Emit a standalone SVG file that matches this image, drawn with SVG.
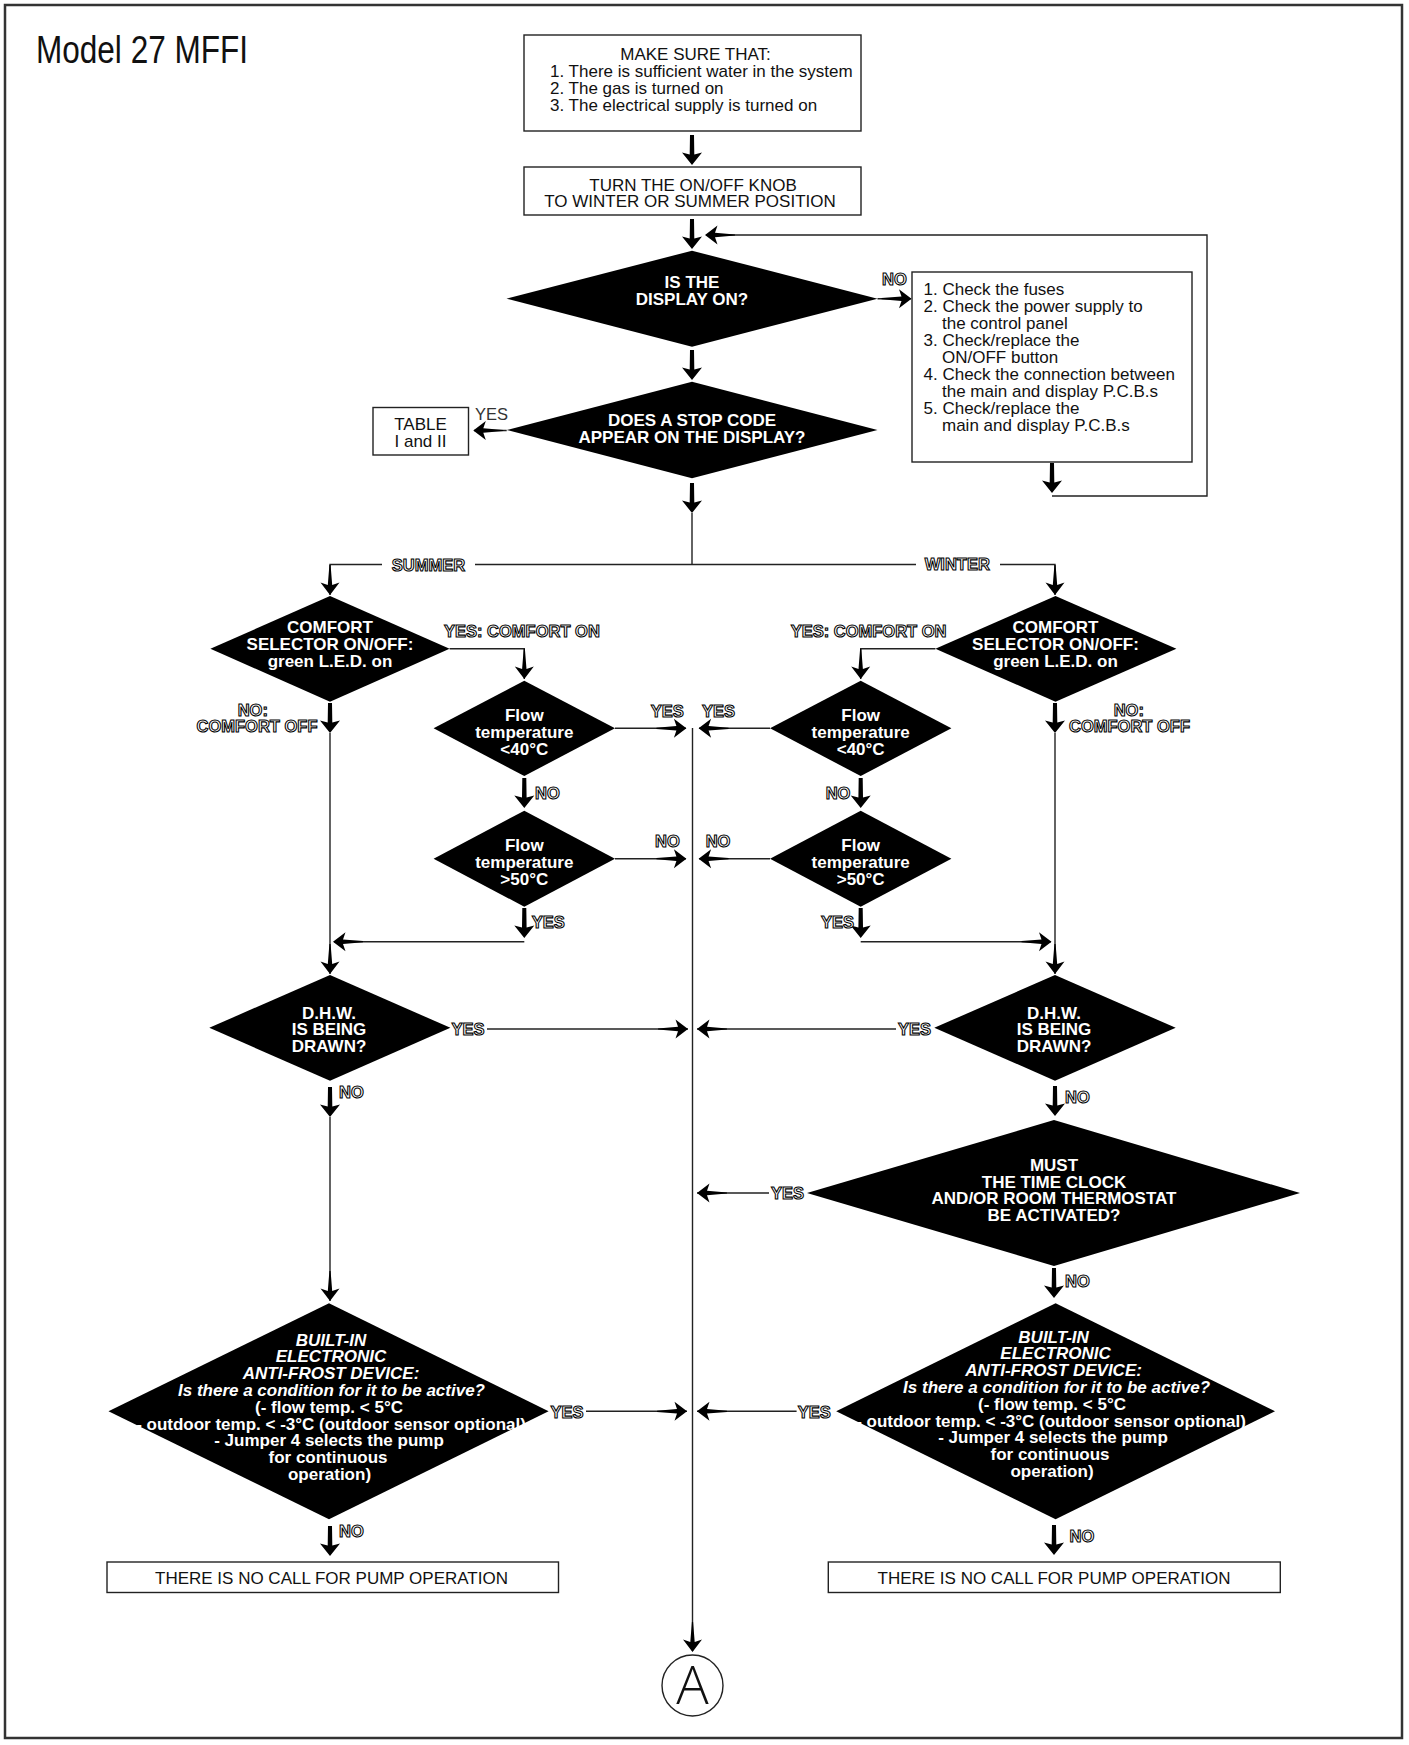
<svg xmlns="http://www.w3.org/2000/svg" width="1409" height="1745" viewBox="0 0 1409 1745">
<style>
.bx{fill:#fff;stroke:#222;stroke-width:1.4}
.dm{fill:#000}
.t{font-family:"Liberation Sans",Arial,sans-serif;font-size:17px;fill:#111}
.c{text-anchor:middle}
.w{font-family:"Liberation Sans",Arial,sans-serif;font-size:17px;font-weight:bold;fill:#fff;text-anchor:middle}
.i{font-style:italic}
.lb{font-family:"Liberation Sans",Arial,sans-serif;font-size:16.5px;font-weight:bold;fill:#fff;stroke:#000;stroke-width:1.05}
.ln{fill:none;stroke:#222;stroke-width:1.4}
.ar{fill:#000}
</style>
<defs>
<path id="at" d="M0,0 L-12.5,-9.5 L-10,-2.2 L-30,-0.6 L-30,0.6 L-10,2.2 L-12.5,9.5 Z"/>
<path id="ak" d="M0,0 L-12.5,-10 L-10.5,-2.3 L-30,-2 L-30,2 L-10.5,2.3 L-12.5,10 Z"/>
</defs>
<rect x="0" y="0" width="1409" height="1745" fill="#fff"/>
<rect x="5" y="5" width="1397" height="1733" fill="none" stroke="#333" stroke-width="2.5"/>
<text x="36" y="63" font-family="Liberation Sans, Arial, sans-serif" font-size="38" fill="#111" textLength="212" lengthAdjust="spacingAndGlyphs">Model 27 MFFI</text>

<g id="connectors">
<path class="ln" d="M692,513 V564.5"/>
<path class="ln" d="M330,595 V564.5 H382"/>
<path class="ln" d="M475,564.5 H916"/>
<path class="ln" d="M1000,564.5 H1055 V595"/>
<path class="ln" d="M449.6,648.8 H524.3 V679"/>
<path class="ln" d="M935.4,648.8 H860.7 V679"/>
<path class="ln" d="M330,733 V974"/>
<path class="ln" d="M1055,733 V974"/>
<path class="ln" d="M615,728.3 H686"/>
<path class="ln" d="M770,728.3 H699"/>
<path class="ln" d="M615,858.7 H686"/>
<path class="ln" d="M770,858.7 H699"/>
<path class="ln" d="M524.3,941.7 H334"/>
<path class="ln" d="M860.7,941.7 H1051"/>
<path class="ln" d="M692.5,728 V1651"/>
<path class="ln" d="M487,1029 H688"/>
<path class="ln" d="M896,1029 H697"/>
<path class="ln" d="M330,1117 V1301"/>
<path class="ln" d="M769,1193 H697"/>
<path class="ln" d="M586,1411.3 H687"/>
<path class="ln" d="M796.6,1411.3 H697"/>
<path class="ln" d="M877.5,298.7 H911"/>
<path class="ln" d="M506.7,430.5 H474"/>
<path class="ln" d="M1052,496 H1207 V235 H706"/>
<g class="ar">
<use href="#ak" transform="translate(692,165) rotate(90)"/>
<use href="#ak" transform="translate(692,249) rotate(90)"/>
<use href="#ak" transform="translate(692,380) rotate(90)"/>
<use href="#ak" transform="translate(692,513) rotate(90)"/>
<use href="#ak" transform="translate(1052,493) rotate(90)"/>
<use href="#ak" transform="translate(330,733) rotate(90)"/>
<use href="#ak" transform="translate(1055,733) rotate(90)"/>
<use href="#ak" transform="translate(524.3,808) rotate(90)"/>
<use href="#ak" transform="translate(860.7,808) rotate(90)"/>
<use href="#ak" transform="translate(524.3,938) rotate(90)"/>
<use href="#ak" transform="translate(860.7,938) rotate(90)"/>
<use href="#ak" transform="translate(330,1117) rotate(90)"/>
<use href="#ak" transform="translate(1055,1116) rotate(90)"/>
<use href="#ak" transform="translate(1054,1298) rotate(90)"/>
<use href="#ak" transform="translate(330,1556) rotate(90)"/>
<use href="#ak" transform="translate(1054,1555) rotate(90)"/>
<use href="#at" transform="translate(330,595) rotate(90)"/>
<use href="#at" transform="translate(1055,595) rotate(90)"/>
<use href="#at" transform="translate(524.3,679) rotate(90)"/>
<use href="#at" transform="translate(860.7,679) rotate(90)"/>
<use href="#at" transform="translate(686.4,728.3)"/>
<use href="#at" transform="translate(698.6,728.3) rotate(180)"/>
<use href="#at" transform="translate(686.4,858.7)"/>
<use href="#at" transform="translate(698.6,858.7) rotate(180)"/>
<use href="#at" transform="translate(333,941.7) rotate(180)"/>
<use href="#at" transform="translate(1051.5,941.7)"/>
<use href="#at" transform="translate(330,974) rotate(90)"/>
<use href="#at" transform="translate(1055,974) rotate(90)"/>
<use href="#at" transform="translate(688,1029)"/>
<use href="#at" transform="translate(697,1029) rotate(180)"/>
<use href="#at" transform="translate(697,1193) rotate(180)"/>
<use href="#at" transform="translate(330,1301) rotate(90)"/>
<use href="#at" transform="translate(687,1411.3)"/>
<use href="#at" transform="translate(697,1411.3) rotate(180)"/>
<use href="#at" transform="translate(692.5,1652) rotate(90)"/>
<use href="#at" transform="translate(911.5,298.7)"/>
<use href="#at" transform="translate(473.3,430.5) rotate(180)"/>
<use href="#at" transform="translate(705,235) rotate(180)"/>
</g>
<g id="labels">
<text class="lb" x="882" y="285">NO</text>
<text x="475" y="420" font-family="Liberation Sans, Arial, sans-serif" font-size="16.5" fill="#333">YES</text>
<text class="lb" x="428.5" y="570.5" text-anchor="middle">SUMMER</text>
<text class="lb" x="957.3" y="569.5" text-anchor="middle">WINTER</text>
<text class="lb" x="444" y="637">YES: COMFORT ON</text>
<text class="lb" x="790.7" y="637">YES: COMFORT ON</text>
<text class="lb" x="252.8" y="716" text-anchor="middle">NO:</text>
<text class="lb" x="317.5" y="732" text-anchor="end">COMFORT OFF</text>
<text class="lb" x="1128.8" y="715.5" text-anchor="middle">NO:</text>
<text class="lb" x="1069" y="732">COMFORT OFF</text>
<text class="lb" x="650.7" y="716.5">YES</text>
<text class="lb" x="702" y="716.5">YES</text>
<text class="lb" x="535" y="798.5">NO</text>
<text class="lb" x="825.7" y="798.5">NO</text>
<text class="lb" x="655" y="846.5">NO</text>
<text class="lb" x="705.7" y="846.5">NO</text>
<text class="lb" x="531.8" y="928">YES</text>
<text class="lb" x="821" y="928">YES</text>
<text class="lb" x="451.4" y="1034.5">YES</text>
<text class="lb" x="897.9" y="1034.5">YES</text>
<text class="lb" x="339" y="1097.5">NO</text>
<text class="lb" x="1065" y="1102.5">NO</text>
<text class="lb" x="771" y="1198.5">YES</text>
<text class="lb" x="1065" y="1287">NO</text>
<text class="lb" x="550.5" y="1417.5">YES</text>
<text class="lb" x="797.8" y="1417.5">YES</text>
<text class="lb" x="339" y="1536.5">NO</text>
<text class="lb" x="1069.5" y="1542">NO</text>
</g>
</g>

<g id="n_makesure">
<rect class="bx" x="524" y="35" width="337" height="96"/>
<text class="t c" x="695.5" y="60">MAKE SURE THAT:</text>
<text class="t" x="550" y="77">1. There is sufficient water in the system</text>
<text class="t" x="550" y="94">2. The gas is turned on</text>
<text class="t" x="550" y="111">3. The electrical supply is turned on</text>
</g>
<g id="n_knob">
<rect class="bx" x="524" y="167" width="337" height="48"/>
<text class="t c" x="693" y="190.5">TURN THE ON/OFF KNOB</text>
<text class="t c" x="690" y="207">TO WINTER OR SUMMER POSITION</text>
</g>
<g id="n_display">
<polygon class="dm" points="506.5,298.7 692,250.7 877.5,298.7 692,346.7"/>
<text class="w" x="692" y="288">IS THE</text>
<text class="w" x="692" y="305">DISPLAY ON?</text>
</g>
<g id="n_checks">
<rect class="bx" x="912" y="272" width="280" height="190"/>
<text class="t" x="923.5" y="295">1. Check the fuses</text>
<text class="t" x="923.5" y="312">2. Check the power supply to</text>
<text class="t" x="942" y="329">the control panel</text>
<text class="t" x="923.5" y="346">3. Check/replace the</text>
<text class="t" x="942" y="363">ON/OFF button</text>
<text class="t" x="923.5" y="380">4. Check the connection between</text>
<text class="t" x="942" y="397">the main and display P.C.B.s</text>
<text class="t" x="923.5" y="414">5. Check/replace the</text>
<text class="t" x="942" y="431">main and display P.C.B.s</text>
</g>
<g id="n_stopcode">
<polygon class="dm" points="506.7,430 692,381.7 877.5,430 692,478.3"/>
<text class="w" x="692" y="426">DOES A STOP CODE</text>
<text class="w" x="692" y="443">APPEAR ON THE DISPLAY?</text>
</g>
<g id="n_table">
<rect class="bx" x="373" y="407.5" width="95.5" height="47.5"/>
<text class="t c" x="420.5" y="429.5">TABLE</text>
<text class="t c" x="420.5" y="446.5">I and II</text>
</g>
<g id="n_comfort_s">
<polygon class="dm" points="210.4,648.8 330,596 449.6,648.8 330,701.7"/>
<text class="w" x="330" y="633">COMFORT</text>
<text class="w" x="330" y="650">SELECTOR ON/OFF:</text>
<text class="w" x="330" y="667">green L.E.D. on</text>
</g>
<g id="n_comfort_w">
<polygon class="dm" points="935.4,648.8 1055.5,596 1176.4,648.8 1055.5,701.7"/>
<text class="w" x="1055.5" y="633">COMFORT</text>
<text class="w" x="1055.5" y="650">SELECTOR ON/OFF:</text>
<text class="w" x="1055.5" y="667">green L.E.D. on</text>
</g>
<g id="n_flow40_s">
<polygon class="dm" points="433.6,728.3 524.3,680.7 615,728.3 524.3,776"/>
<text class="w" x="524.3" y="721">Flow</text>
<text class="w" x="524.3" y="738">temperature</text>
<text class="w" x="524.3" y="755">&lt;40°C</text>
</g>
<g id="n_flow50_s">
<polygon class="dm" points="433.6,858.7 524.3,810.7 615,858.7 524.3,906.7"/>
<text class="w" x="524.3" y="851">Flow</text>
<text class="w" x="524.3" y="868">temperature</text>
<text class="w" x="524.3" y="885">&gt;50°C</text>
</g>
<g id="n_flow40_w">
<polygon class="dm" points="770,728.3 860.7,680.7 951.4,728.3 860.7,776"/>
<text class="w" x="860.7" y="721">Flow</text>
<text class="w" x="860.7" y="738">temperature</text>
<text class="w" x="860.7" y="755">&lt;40°C</text>
</g>
<g id="n_flow50_w">
<polygon class="dm" points="770,858.7 860.7,810.7 951.4,858.7 860.7,906.7"/>
<text class="w" x="860.7" y="851">Flow</text>
<text class="w" x="860.7" y="868">temperature</text>
<text class="w" x="860.7" y="885">&gt;50°C</text>
</g>
<g id="n_dhw_s">
<polygon class="dm" points="209.3,1027.8 330,975 450.4,1027.8 330,1080.7"/>
<text class="w" x="329" y="1018.5">D.H.W.</text>
<text class="w" x="329" y="1035">IS BEING</text>
<text class="w" x="329" y="1051.5">DRAWN?</text>
</g>
<g id="n_dhw_w">
<polygon class="dm" points="934.3,1027.8 1055,975 1175.7,1027.8 1055,1080.7"/>
<text class="w" x="1054" y="1018.5">D.H.W.</text>
<text class="w" x="1054" y="1035">IS BEING</text>
<text class="w" x="1054" y="1051.5">DRAWN?</text>
</g>
<g id="n_timeclock">
<polygon class="dm" points="807,1193 1054,1120 1300,1193 1054,1266"/>
<text class="w" x="1054" y="1171">MUST</text>
<text class="w" x="1054" y="1187.5">THE TIME CLOCK</text>
<text class="w" x="1054" y="1204">AND/OR ROOM THERMOSTAT</text>
<text class="w" x="1054" y="1221">BE ACTIVATED?</text>
</g>
<g id="n_frost_s">
<polygon class="dm" points="108.5,1411.3 329,1303.3 548.6,1411.3 329,1519.3"/>
<text class="w i" x="331" y="1345.5">BUILT-IN</text>
<text class="w i" x="331" y="1362.3">ELECTRONIC</text>
<text class="w i" x="331" y="1379.1">ANTI-FROST DEVICE:</text>
<text class="w i" x="331.5" y="1395.9">Is there a condition for it to be active?</text>
<text class="w" x="329" y="1412.7">(- flow temp. &lt; 5°C</text>
<text class="w" x="331" y="1429.5">- outdoor temp. &lt; -3°C (outdoor sensor optional)</text>
<text class="w" x="329" y="1446.3">- Jumper 4 selects the pump</text>
<text class="w" x="328" y="1463.1">for continuous</text>
<text class="w" x="329.5" y="1479.9">operation)</text>
</g>
<g id="n_frost_w">
<polygon class="dm" points="836.2,1411.3 1055.6,1303.3 1275,1411.3 1055.6,1519.3"/>
<text class="w i" x="1053.6" y="1342.5">BUILT-IN</text>
<text class="w i" x="1055.6" y="1359.3">ELECTRONIC</text>
<text class="w i" x="1053.6" y="1376.1">ANTI-FROST DEVICE:</text>
<text class="w i" x="1056.6" y="1392.9">Is there a condition for it to be active?</text>
<text class="w" x="1052" y="1409.7">(- flow temp. &lt; 5°C</text>
<text class="w" x="1051" y="1426.5">- outdoor temp. &lt; -3°C (outdoor sensor optional)</text>
<text class="w" x="1053" y="1443.3">- Jumper 4 selects the pump</text>
<text class="w" x="1050" y="1460.1">for continuous</text>
<text class="w" x="1052" y="1476.9">operation)</text>
</g>
<g id="n_nocall_s">
<rect class="bx" x="107" y="1562" width="451.5" height="30.5"/>
<text class="t c" x="331.5" y="1583.5">THERE IS NO CALL FOR PUMP OPERATION</text>
</g>
<g id="n_nocall_w">
<rect class="bx" x="828.3" y="1562" width="452" height="30.5"/>
<text class="t c" x="1054" y="1583.5">THERE IS NO CALL FOR PUMP OPERATION</text>
</g>
<g id="n_A">
<circle cx="692.5" cy="1685.5" r="30.5" fill="#fff" stroke="#222" stroke-width="1.4"/>
<text x="692.5" y="1704" text-anchor="middle" font-family="Open Sans, Liberation Sans, sans-serif" font-weight="300" font-size="54" fill="#111">A</text>
</g>
</svg>
